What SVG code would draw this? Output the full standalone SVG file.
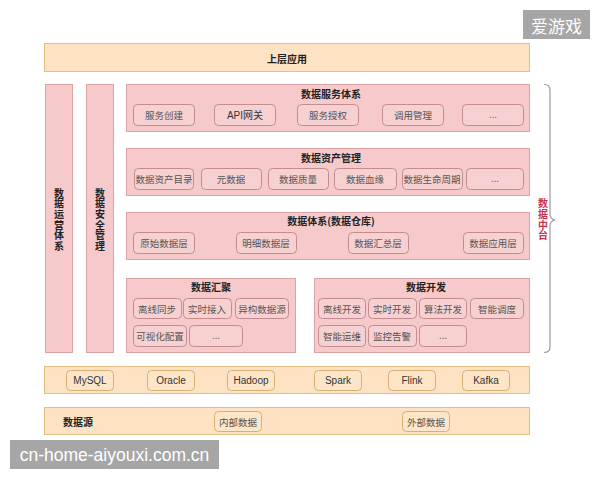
<svg xmlns="http://www.w3.org/2000/svg" width="600" height="480" viewBox="0 0 600 480">
<defs>
<style>
.bg{fill:#ffffff}
.pk{fill:#f6caca;stroke:#dca3a5;stroke-width:1}
.pks{fill:#f7d1d1;stroke:#c48c8f;stroke-width:1}
.bj{fill:#fde3c3;stroke:#e2c083;stroke-width:1}
.bjs{fill:#fde6c8;stroke:#d8b172;stroke-width:1}
text{font-family:"Noto Sans CJK SC","Liberation Sans",sans-serif;font-size:9.5px;fill:#555;text-anchor:middle;dominant-baseline:central}
.t{font-weight:bold;fill:#222;font-size:10px}
.v{writing-mode:vertical-rl;letter-spacing:0.7px}
.en{font-family:"Liberation Sans","Noto Sans CJK SC",sans-serif;fill:#333;font-size:10px}
.red{fill:#c8334f;font-weight:bold;font-size:10px}
.wm{fill:#a6a6a6}
.wmt{fill:#ffffff;font-size:17px}
.br{fill:none;stroke:#9a9a9a;stroke-width:1.2}
</style>
</defs>
<rect class="bg" x="0" y="0" width="600" height="480"/>

<g id="top">
<rect class="bj" x="44.5" y="43.5" width="485" height="28"/>
<text class="t" x="287" y="58">上层应用</text>
</g>

<g id="ops">
<rect class="pk" x="45.5" y="84.5" width="27" height="268"/>
<text class="t v" x="59" y="220">数据运营体系</text>
</g>
<g id="sec">
<rect class="pk" x="86.5" y="84.5" width="27" height="268"/>
<text class="t v" x="100" y="220">数据安全管理</text>
</g>

<g id="service">
<rect class="pk" x="126.5" y="84.5" width="403" height="47"/>
<text class="t" x="331" y="93">数据服务体系</text>
<rect class="pks" x="133.5" y="104.5" width="61" height="21" rx="4"/><text x="164" y="115">服务创建</text>
<rect class="pks" x="214.5" y="104.5" width="61" height="21" rx="4"/><text class="en" x="245" y="115">API网关</text>
<rect class="pks" x="297.5" y="104.5" width="61" height="21" rx="4"/><text x="328" y="115">服务授权</text>
<rect class="pks" x="382.5" y="104.5" width="61" height="21" rx="4"/><text x="413" y="115">调用管理</text>
<rect class="pks" x="462.5" y="104.5" width="61" height="21" rx="4"/><text x="493" y="114">...</text>
</g>

<g id="asset">
<rect class="pk" x="126.5" y="148.5" width="403" height="47"/>
<text class="t" x="331" y="157">数据资产管理</text>
<rect class="pks" x="134.5" y="168.5" width="59" height="21" rx="4"/><text x="164" y="179">数据资产目录</text>
<rect class="pks" x="201.5" y="168.5" width="60" height="21" rx="4"/><text x="231" y="179">元数据</text>
<rect class="pks" x="268.5" y="168.5" width="60" height="21" rx="4"/><text x="298" y="179">数据质量</text>
<rect class="pks" x="334.5" y="168.5" width="62" height="21" rx="4"/><text x="365" y="179">数据血缘</text>
<rect class="pks" x="402.5" y="168.5" width="60" height="21" rx="4"/><text x="432" y="179">数据生命周期</text>
<rect class="pks" x="466.5" y="168.5" width="57" height="21" rx="4"/><text x="495" y="178">...</text>
</g>

<g id="warehouse">
<rect class="pk" x="126.5" y="212.5" width="403" height="47"/>
<text class="t" x="331" y="220">数据体系(数据仓库)</text>
<rect class="pks" x="133.5" y="232.5" width="61" height="21" rx="4"/><text x="164" y="243">原始数据层</text>
<rect class="pks" x="236.5" y="232.5" width="60" height="21" rx="4"/><text x="266" y="243">明细数据层</text>
<rect class="pks" x="348.5" y="232.5" width="60" height="21" rx="4"/><text x="378" y="243">数据汇总层</text>
<rect class="pks" x="463.5" y="232.5" width="60" height="21" rx="4"/><text x="493" y="243">数据应用层</text>
</g>

<g id="collect">
<rect class="pk" x="126.5" y="278.5" width="169" height="74"/>
<text class="t" x="211" y="286">数据汇聚</text>
<rect class="pks" x="133.5" y="298.5" width="48" height="20" rx="4"/><text x="157" y="308.5">离线同步</text>
<rect class="pks" x="183.5" y="298.5" width="48" height="20" rx="4"/><text x="207" y="308.5">实时接入</text>
<rect class="pks" x="235.5" y="298.5" width="53" height="20" rx="4"/><text x="262" y="308.5">异构数据源</text>
<rect class="pks" x="133.5" y="325.5" width="53" height="21" rx="4"/><text x="160" y="336">可视化配置</text>
<rect class="pks" x="189.5" y="325.5" width="53" height="21" rx="4"/><text x="216" y="335">...</text>
</g>

<g id="develop">
<rect class="pk" x="314.5" y="278.5" width="215" height="74"/>
<text class="t" x="426" y="286">数据开发</text>
<rect class="pks" x="318.5" y="298.5" width="47" height="20" rx="4"/><text x="342" y="308.5">离线开发</text>
<rect class="pks" x="368.5" y="298.5" width="48" height="20" rx="4"/><text x="392" y="308.5">实时开发</text>
<rect class="pks" x="419.5" y="298.5" width="47" height="20" rx="4"/><text x="443" y="308.5">算法开发</text>
<rect class="pks" x="470.5" y="298.5" width="53" height="20" rx="4"/><text x="497" y="308.5">智能调度</text>
<rect class="pks" x="318.5" y="325.5" width="47" height="21" rx="4"/><text x="342" y="336">智能运维</text>
<rect class="pks" x="368.5" y="325.5" width="48" height="21" rx="4"/><text x="392" y="336">监控告警</text>
<rect class="pks" x="419.5" y="325.5" width="47" height="21" rx="4"/><text x="443" y="335">...</text>
</g>

<g id="zhongtai">
<path class="br" d="M544,84.5 Q550,84.5 550,90 L550,214 Q550,219 555,220 Q550,221 550,226 L550,347 Q550,352.5 544,352.5"/>
<text class="red v" x="543" y="220">数据中台</text>
</g>

<g id="engines">
<rect class="bj" x="44.5" y="366.5" width="485" height="27"/>
<rect class="bjs" x="66.5" y="370.5" width="47" height="20" rx="4"/><text class="en" x="90" y="380.5">MySQL</text>
<rect class="bjs" x="147.5" y="370.5" width="47" height="20" rx="4"/><text class="en" x="171" y="380.5">Oracle</text>
<rect class="bjs" x="227.5" y="370.5" width="47" height="20" rx="4"/><text class="en" x="251" y="380.5">Hadoop</text>
<rect class="bjs" x="314.5" y="370.5" width="47" height="20" rx="4"/><text class="en" x="338" y="380.5">Spark</text>
<rect class="bjs" x="388.5" y="370.5" width="47" height="20" rx="4"/><text class="en" x="412" y="380.5">Flink</text>
<rect class="bjs" x="462.5" y="370.5" width="47" height="20" rx="4"/><text class="en" x="486" y="380.5">Kafka</text>
</g>

<g id="source">
<rect class="bj" x="44.5" y="407.5" width="485" height="27"/>
<text class="t" x="63" y="421" style="text-anchor:start">数据源</text>
<rect class="bjs" x="214.5" y="411.5" width="47" height="20" rx="4"/><text x="238" y="421.5">内部数据</text>
<rect class="bjs" x="402.5" y="411.5" width="47" height="20" rx="4"/><text x="426" y="421.5">外部数据</text>
</g>

<g id="watermarks">
<rect class="wm" x="523" y="10" width="67" height="29"/>
<text class="wmt" x="556.5" y="25">爱游戏</text>
<rect class="wm" x="10" y="440" width="209" height="29"/>
<text class="wmt" style="font-family:'Liberation Sans',sans-serif;fill:#ffffff;font-size:17.5px" x="114.5" y="455">cn-home-aiyouxi.com.cn</text>
</g>
</svg>
